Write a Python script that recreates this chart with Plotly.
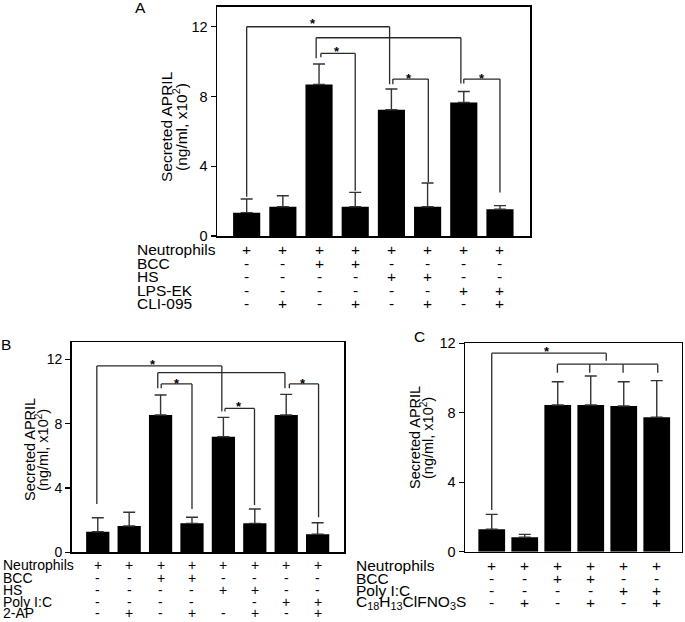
import plotly.graph_objects as go

# ---------------- data ----------------
A_means = [1.34, 1.68, 8.69, 1.68, 7.24, 1.68, 7.66, 1.53]
A_err = [0.78, 0.63, 1.17, 0.82, 1.19, 1.36, 0.63, 0.21]
A_rows = ["Neutrophils", "BCC", "HS", "LPS-EK", "CLI-095"]
A_table = [
    ["+", "+", "+", "+", "+", "+", "+", "+"],
    ["-", "-", "+", "+", "-", "-", "-", "-"],
    ["-", "-", "-", "-", "+", "+", "-", "-"],
    ["-", "-", "-", "-", "-", "-", "+", "+"],
    ["-", "+", "-", "+", "-", "+", "-", "+"],
]
# brackets: (x_left, x_right, y, left_leg_bottom, right_leg_bottom)
A_brackets = [
    (0.0, 3.95, 12.0, 2.25, 8.70),
    (1.92, 5.92, 11.37, 10.2, 8.75),
    (2.05, 3.0, 10.47, 10.25, 2.60),
    (4.04, 5.02, 9.0, 8.70, 3.10),
    (6.0, 7.0, 9.0, 8.75, 2.49),
]
A_stars = [(1.83, 12.38), (2.5, 10.76), (4.49, 9.23), (6.5, 9.23)]

B_means = [1.28, 1.64, 8.54, 1.80, 7.19, 1.80, 8.54, 1.12]
B_err = [0.87, 0.85, 1.24, 0.38, 1.20, 0.89, 1.28, 0.72]
B_rows = ["Neutrophils", "BCC", "HS", "Poly I:C", "2-AP"]
B_table = [
    ["+", "+", "+", "+", "+", "+", "+", "+"],
    ["-", "-", "+", "+", "-", "-", "-", "-"],
    ["-", "-", "-", "-", "+", "+", "-", "-"],
    ["-", "-", "-", "-", "", "-", "+", "+"],
    ["-", "+", "-", "+", "-", "+", "-", "+"],
]
B_brackets = [
    (-0.03, 3.95, 11.59, 3.0, 8.75),
    (1.91, 5.96, 11.17, 10.2, 10.2),
    (2.02, 3.0, 10.47, 10.2, 2.69),
    (4.05, 4.99, 8.95, 8.75, 2.94),
    (6.1, 7.03, 10.47, 10.2, 2.18),
]
B_stars = [(1.77, 11.85), (2.52, 10.71), (4.51, 9.26), (6.55, 10.71)]

C_means = [1.29, 0.83, 8.45, 8.45, 8.39, 7.74]
C_err = [0.86, 0.17, 1.34, 1.67, 1.40, 2.11]
C_rows = ["Neutrophils", "BCC", "Poly I:C", "C<sub>18</sub>H<sub>13</sub>ClFNO<sub>3</sub>S"]
C_table = [
    ["+", "+", "+", "+", "+", "+"],
    ["-", "-", "+", "+", "-", "-"],
    ["-", "-", "-", "-", "+", "+"],
    ["-", "+", "-", "+", "-", "+"],
]
C_brackets = [
    (0.0, 3.47, 11.43, 2.4, 11.0),
    (1.99, 5.03, 10.8, 10.31, 10.31),
]
C_legs = [(2.97, 10.8, 10.31), (3.98, 10.8, 10.31)]
C_stars = [(1.68, 11.68)]

Y_TICKS = [0, 4, 8, 12]

# ---------------- figure ----------------
W, H = 685, 622
FONT = "Arial, Liberation Sans, sans-serif"
LINE = "#2a2a2a"


def px_x(p):
    return p / W


def px_y(p):
    return 1 - p / H


fig = go.Figure()

panels = [
    dict(ax="", means=A_means, err=A_err, bw=0.75, xr=[-0.82, 7.83], yr=[0, 13.15],
         xd=[217, 530], yd=[236, 6.7], tick=14.5),
    dict(ax="2", means=B_means, err=B_err, bw=0.74, xr=[-0.83, 7.84], yr=[0, 13.06],
         xd=[71.7, 344], yd=[552.3, 342.3], tick=14),
    dict(ax="3", means=C_means, err=C_err, bw=0.81, xr=[-0.81, 5.75], yr=[0, 12.0],
         xd=[465, 681.5], yd=[551.7, 343.3], tick=14.5),
]

layout = dict(
    width=W, height=H, margin=dict(l=0, r=0, t=0, b=0),
    paper_bgcolor="white", plot_bgcolor="white", showlegend=False,
    font=dict(family=FONT, color="black"),
)

for p in panels:
    n = len(p["means"])
    fig.add_trace(go.Bar(
        x=list(range(n)), y=p["means"], width=p["bw"],
        marker=dict(color="black", line=dict(width=0)),
        error_y=dict(type="data", symmetric=False, array=p["err"], arrayminus=[0] * n,
                     color="#333333", thickness=1.4, width=6),
        xaxis="x" + p["ax"], yaxis="y" + p["ax"], hoverinfo="skip",
    ))
    layout["xaxis" + p["ax"]] = dict(
        domain=[px_x(p["xd"][0]), px_x(p["xd"][1])], range=p["xr"], anchor="y" + p["ax"],
        showticklabels=False, ticks="", showline=True, mirror=True, linecolor="black",
        linewidth=1.5, showgrid=False, zeroline=False, fixedrange=True, automargin=False,
    )
    layout["yaxis" + p["ax"]] = dict(
        domain=[px_y(p["yd"][0]), px_y(p["yd"][1])], range=p["yr"], anchor="x" + p["ax"],
        tickvals=Y_TICKS, ticks="outside", ticklen=5, tickwidth=1.3, tickcolor="black",
        showline=True, mirror=True, linecolor="black", linewidth=1.5, showgrid=False,
        zeroline=False, fixedrange=True, automargin=False,
        tickfont=dict(size=p["tick"], family=FONT, color="black"),
    )

fig.update_layout(**layout)

shapes = []
annotations = []


def add_line(ax, x0, y0, x1, y1):
    shapes.append(dict(type="line", xref="x" + ax, yref="y" + ax, x0=x0, y0=y0, x1=x1, y1=y1,
                       line=dict(color=LINE, width=1.3)))


for ax, brs in (("", A_brackets), ("2", B_brackets), ("3", C_brackets)):
    for (xl, xr_, y, bl, br) in brs:
        add_line(ax, xl, y, xr_, y)
        add_line(ax, xl, y, xl, bl)
        add_line(ax, xr_, y, xr_, br)
for (x, yt, yb) in C_legs:
    add_line("3", x, yt, x, yb)

for ax, stars in (("", A_stars), ("2", B_stars), ("3", C_stars)):
    for (x, y) in stars:
        annotations.append(dict(text="<b>*</b>", x=x, y=y, xref="x" + ax, yref="y" + ax,
                                showarrow=False, font=dict(size=13, family=FONT, color="black"),
                                xanchor="center", yanchor="middle", yshift=-3))

# tables
tables = [
    ("", A_rows, A_table, 135, [249.5, 263, 276.5, 290, 303.5], 15.5),
    ("2", B_rows, B_table, 1, [565, 578, 590, 601.7, 613], 14),
    ("3", C_rows, C_table, 354, [565, 578, 590, 602], 15.5),
]
for ax, rows, tab, lx, ys, fs in tables:
    for r, (lab, vals, yp) in enumerate(zip(rows, tab, ys)):
        annotations.append(dict(text=lab, x=px_x(lx), y=px_y(yp), xref="paper", yref="paper",
                                showarrow=False, xanchor="left", yanchor="middle",
                                font=dict(size=fs, family=FONT, color="black")))
        for c, v in enumerate(vals):
            if not v:
                continue
            annotations.append(dict(text=v, x=c, y=px_y(yp), xref="x" + ax, yref="paper",
                                    showarrow=False, xanchor="center", yanchor="middle",
                                    font=dict(size=fs, family=FONT, color="black")))

# y titles (two lines each)
titles = [
    (166, 180, 127, 15.5),
    (30, 42, 450, 14.5),
    (415, 427, 438, 14.5),
]
for x1, x2, yc, fs in titles:
    annotations.append(dict(text="Secreted APRIL", x=px_x(x1), y=px_y(yc), xref="paper", yref="paper",
                            showarrow=False, textangle=-90, xanchor="center", yanchor="middle",
                            font=dict(size=fs, family=FONT, color="black")))
    annotations.append(dict(text="(ng/ml, x10<sup>2</sup>)", x=px_x(x2), y=px_y(yc), xref="paper",
                            yref="paper", showarrow=False, textangle=-90, xanchor="center",
                            yanchor="middle", font=dict(size=fs, family=FONT, color="black")))

# panel letters
for lab, x, y in (("A", 140, 8), ("B", 6, 344), ("C", 419, 336)):
    annotations.append(dict(text=lab, x=px_x(x), y=px_y(y), xref="paper", yref="paper",
                            showarrow=False, xanchor="center", yanchor="middle",
                            font=dict(size=15.5, family=FONT, color="black")))

fig.update_layout(shapes=shapes, annotations=annotations)
fig.write_html(
    "out.html",
    config={"displayModeBar": False, "staticPlot": True},
    post_script="document.body.style.margin='0';document.body.style.padding='0';"
                "document.body.style.overflow='hidden';",
)
